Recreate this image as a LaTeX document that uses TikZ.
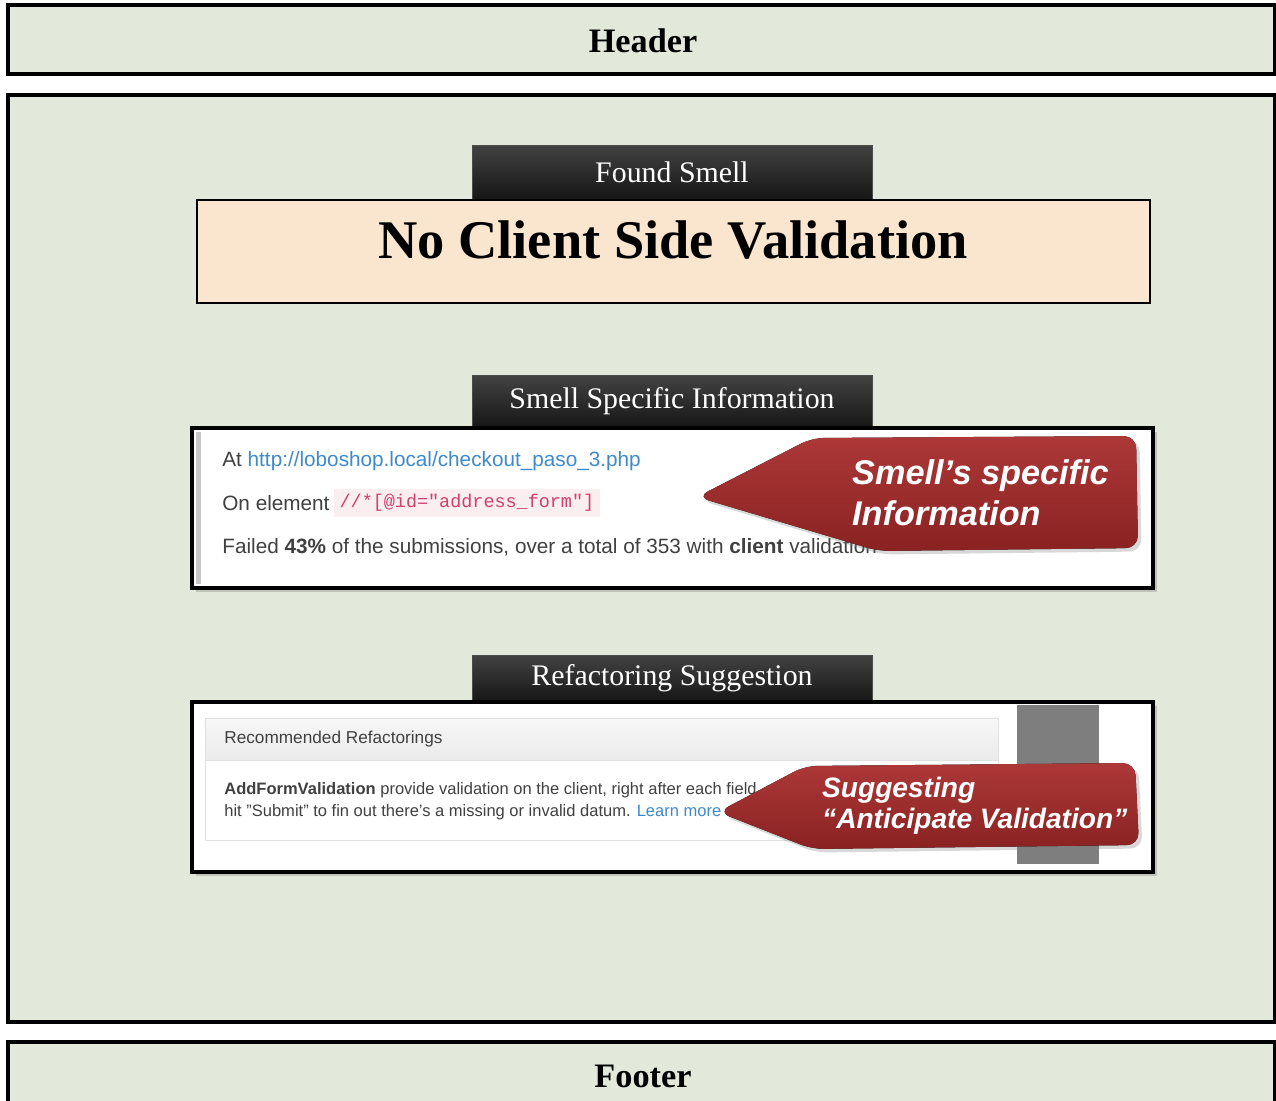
\documentclass[tikz,border=0pt]{standalone}
\usepackage{fontspec}
\setmainfont{Liberation Serif}
\setsansfont{Liberation Sans}[Ligatures=ResetAll]
\setmonofont{Liberation Mono}
\usetikzlibrary{%
		shadows%
	}

\definecolor{panelgreen}{HTML}{E2E8DA}
\definecolor{peach}{HTML}{FAE5CF}
\definecolor{tabtop}{HTML}{424242}
\definecolor{tabbottom}{HTML}{161616}
\definecolor{calloutlight}{HTML}{AD3838}
\definecolor{calloutdark}{HTML}{8A2222}
\definecolor{linkblue}{HTML}{3E8ACC}
\definecolor{codepink}{HTML}{FBEEF1}
\definecolor{codered}{HTML}{D0406A}
\definecolor{bargray}{HTML}{7E7E7E}

\tikzset{
	frame/.style={fill=panelgreen, draw=black, line width=1.9pt},
	tabbox/.style={draw=black!70, line width=0.4pt, top color=tabtop, bottom color=tabbottom,
		text=white, minimum width=8cm, font=\fontsize{17}{20}\selectfont},
	shot/.style={fill=white, draw=black, line width=2.2pt,
		drop shadow={opacity=0.35, shadow xshift=2.5pt, shadow yshift=-2.5pt}},
	callout/.style={top color=calloutlight, bottom color=calloutdark, rounded corners=7pt,
		drop shadow={opacity=0.3, shadow xshift=2pt, shadow yshift=-2pt}},
	calloutnote/.style={anchor=west, align=left, text=white, font=\sffamily\bfseries\itshape},
	shottext/.style={anchor=west, inner sep=0pt, text=black!75, font=\sffamily\fontsize{11.8}{14}\selectfont},
	smalltext/.style={anchor=west, inner sep=0pt, text=black!75, font=\sffamily\fontsize{9.4}{11}\selectfont},
}

\begin{document}
\begin{tikzpicture}[x=0.02cm, y=-0.02cm]
	\clip (0,0) rectangle (1276,1101);
	\fill[white] (0,0) rectangle (1276,1101);
	% header
	\draw[frame] (8,5) rectangle (1275,74);
	\node[font=\bfseries\fontsize{19.5}{22}\selectfont] (headertext) at (643,41) {Header};
	% main area
	\draw[frame] (8,95) rectangle (1275,1022);
	% footer
	\draw[frame] (8,1042) rectangle (1275,1120);
	\node[font=\bfseries\fontsize{19.5}{22}\selectfont] (footertext) at (643,1076) {Footer};

	% found smell
	\node[tabbox, minimum height=1.08cm] (foundtab) at (672,172) {Found Smell};
	\filldraw[fill=peach, draw=black, line width=1pt] (197,200) rectangle (1150,303);
	\node[font=\bfseries\fontsize{31}{36}\selectfont] (smellname) at (673,240) {No Client Side Validation};

	% smell specific information
	\node[tabbox, minimum height=1.06cm] (infotab) at (672,401.5) {Smell Specific Information};
	\draw[shot] (192,428) rectangle (1153,588);
	\fill[black!22] (196,432) rectangle (201,584);
	\node[shottext] (urlline) at (222,461) {At \textcolor{linkblue}{http://loboshop.local/checkout\_paso\_3.php}};
	\node[shottext] (elemline) at (222,503) {On element};
	\node[anchor=west, fill=codepink, inner sep=3pt, text=codered,
		font=\ttfamily\fontsize{10.5}{12}\selectfont] (codepath) at (334,503) {//*[@id="address\_form"]};
	\node[shottext] (failline) at (222,547) {Failed \textbf{43\%} of the submissions, over a total of 353 with \textbf{client} validation};
	% callout
	\fill[callout] (697,497) -- (812,438) -- (1136,436) -- (1138,548) -- (878,551) -- cycle;
	\node[calloutnote, font=\sffamily\bfseries\itshape\fontsize{19.5}{23.5}\selectfont] (smellnote) at (846,493)
		{Smell’s specific\\Information};

	% refactoring suggestion
	\node[tabbox, minimum height=0.94cm] (refactab) at (672,678.5) {Refactoring Suggestion};
	\draw[shot] (192,702) rectangle (1153,872);
	\fill[bargray] (1017,705) rectangle (1099,864);
	\draw[draw=black!12, fill=white] (205,718) rectangle (998,840);
	\filldraw[draw=black!12, top color=black!3, bottom color=black!8] (205,718) rectangle (998,760);
	\node[smalltext, font=\sffamily\fontsize{9.8}{11}\selectfont] (recotitle) at (224,739) {Recommended Refactorings};
	\node[smalltext] (recoline) at (224,790) {\textbf{AddFormValidation} provide validation on the client, right after each field};
	\node[smalltext] (hintline) at (224,812) {hit "Submit" to fin out there's a missing or invalid datum. \textcolor{linkblue}{Learn more}};
	% callout
	\fill[callout] (718,812) -- (805,766) -- (1135,763) -- (1139,845) -- (812,849) -- cycle;
	\node[calloutnote, font=\sffamily\bfseries\itshape\fontsize{16}{17.6}\selectfont] (refacnote) at (816,806)
		{Suggesting\\“Anticipate Validation”};
\end{tikzpicture}
\end{document}
